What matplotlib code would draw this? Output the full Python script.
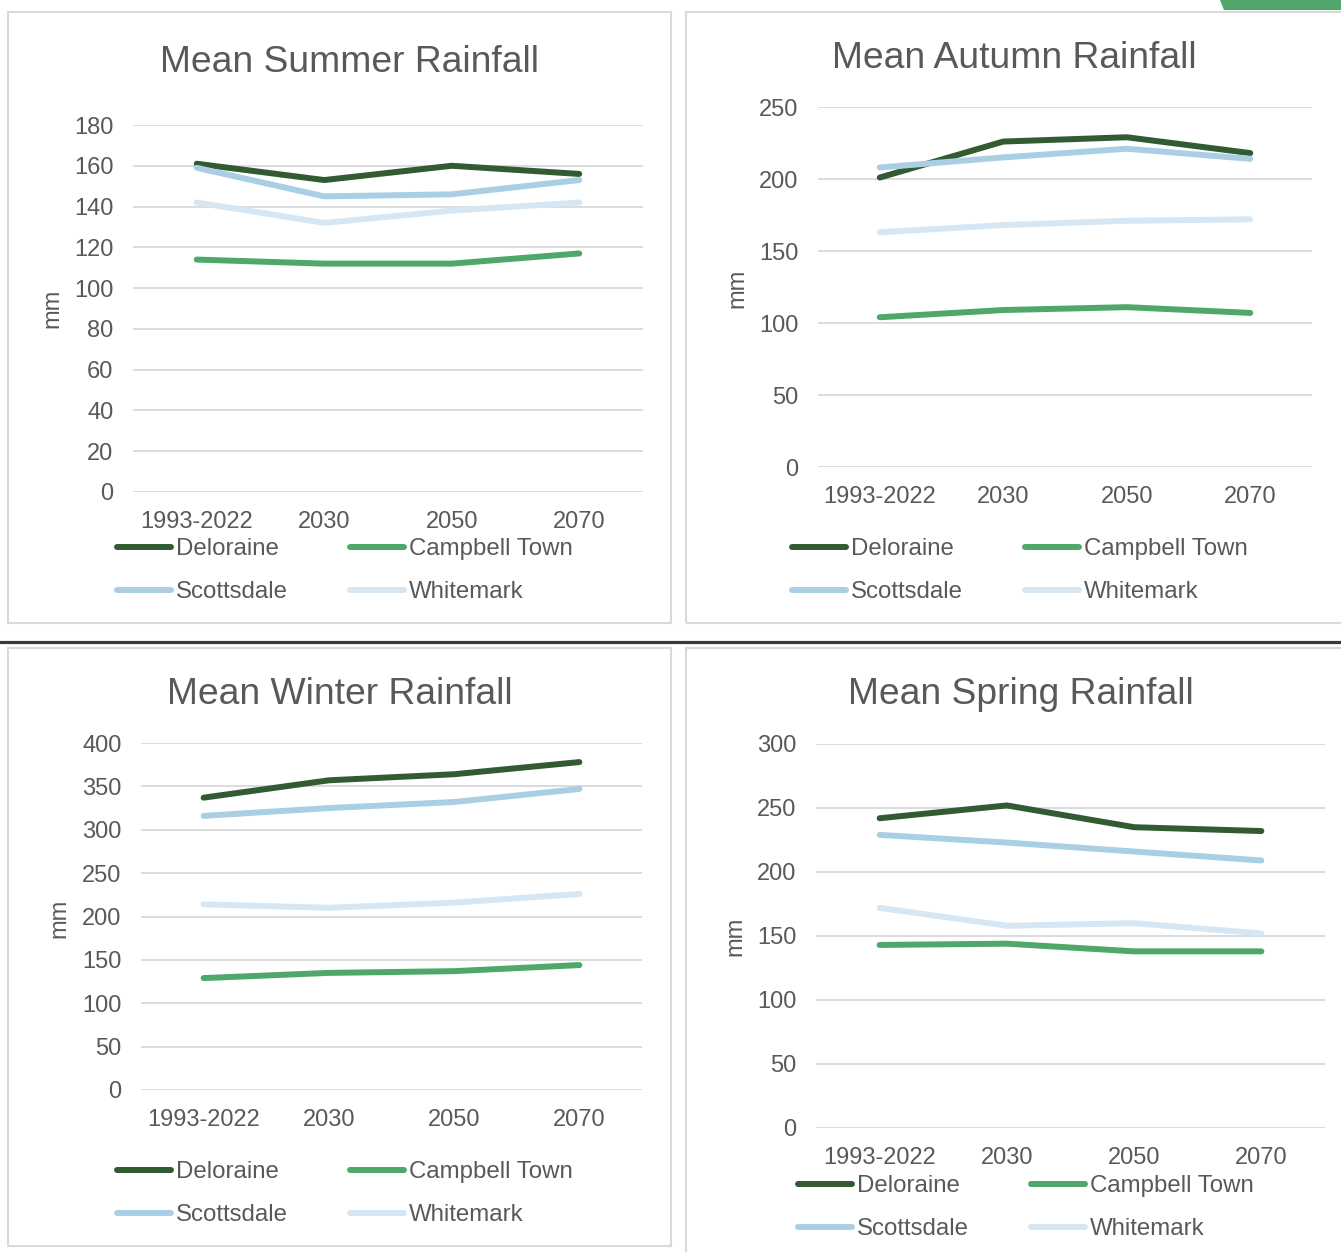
import matplotlib.pyplot as plt
from matplotlib.patches import Rectangle, Polygon
from matplotlib.lines import Line2D

plt.rcParams['font.family'] = ['Liberation Sans', 'DejaVu Sans']

W, H = 1341, 1252

periods = ["1993-2022", "2030", "2050", "2070"]
towns = ["Deloraine", "Campbell Town", "Scottsdale", "Whitemark"]
colors = ["#325B31", "#4FA76B", "#AACFE4", "#D6E7F3"]

summer = {
    "Deloraine": [161, 153, 160, 156],
    "Campbell Town": [114, 112, 112, 117],
    "Scottsdale": [159, 145, 146, 153],
    "Whitemark": [142, 132, 138, 142],
}
autumn = {
    "Deloraine": [201, 226, 229, 218],
    "Campbell Town": [104, 109, 111, 107],
    "Scottsdale": [208, 215, 221, 214],
    "Whitemark": [163, 168, 171, 172],
}
winter = {
    "Deloraine": [337, 357, 364, 378],
    "Campbell Town": [129, 135, 137, 144],
    "Scottsdale": [316, 325, 332, 347],
    "Whitemark": [214, 210, 216, 226],
}
spring = {
    "Deloraine": [242, 252, 235, 232],
    "Campbell Town": [143, 144, 138, 138],
    "Scottsdale": [229, 223, 216, 209],
    "Whitemark": [172, 158, 160, 152],
}

# panel layout in pixels (left, top, right, bottom of plot area), title pos, mm pos, legend pos
panels = [
    dict(title="Mean Summer Rainfall", data=summer, ymax=180, step=20,
         box=(133, 125, 643, 492), tpos=(350, 63), mpos=(52, 308), lpos=(117, 538), border=(8, 12, 671, 623)),
    dict(title="Mean Autumn Rainfall", data=autumn, ymax=250, step=50,
         box=(818, 107, 1312, 467), tpos=(1014, 58), mpos=(737, 288), lpos=(792, 538), border=(686, 12, 1345, 623)),
    dict(title="Mean Winter Rainfall", data=winter, ymax=400, step=50,
         box=(141, 743, 642, 1090), tpos=(340, 694), mpos=(59, 918), lpos=(117, 1161), border=(8, 648, 671, 1246)),
    dict(title="Mean Spring Rainfall", data=spring, ymax=300, step=50,
         box=(816, 744, 1325, 1128), tpos=(1021, 694), mpos=(735, 936), lpos=(798, 1175), border=(686, 648, 1345, 1256)),
]

fig = plt.figure(figsize=(W / 100, H / 100), dpi=100)

def fx(x):
    return x / W

def fy(y):
    return 1 - y / H

# panel borders
for p in panels:
    x0, y0, x1, y1 = p["border"]
    fig.patches.append(Rectangle((fx(x0), fy(y1)), fx(x1 - x0), (y1 - y0) / H,
                                 transform=fig.transFigure, fill=False,
                                 edgecolor="#D9D9D9", lw=1.5))

# divider and corner shape
fig.add_artist(Line2D([0, 1], [fy(642), fy(642)], transform=fig.transFigure,
                      color="#333A45", lw=2.3))
fig.patches.append(Polygon([(fx(1220), fy(0)), (fx(1345), fy(0)), (fx(1345), fy(10)), (fx(1224), fy(10))],
                           closed=True, transform=fig.transFigure, facecolor="#4FA76B", edgecolor="none"))

for p in panels:
    l, t, r, b = p["box"]
    ax = fig.add_axes([fx(l), fy(b), (r - l) / W, (b - t) / H])
    xs = range(len(periods))
    lines = {}
    for town, c in zip(towns, colors):
        lines[town], = ax.plot(xs, p["data"][town], color=c, lw=4.3, solid_capstyle="round",
                               solid_joinstyle="round", label=town, zorder=3)
    ax.set_xlim(-0.5, len(periods) - 0.5)
    ax.set_ylim(0, p["ymax"])
    ax.set_yticks(range(0, p["ymax"] + 1, p["step"]))
    ax.set_xticks(list(xs))
    ax.set_xticklabels(periods)
    ax.grid(axis="y", color="#D9D9D9", lw=1.3)
    ax.set_axisbelow(True)
    for s in ax.spines.values():
        s.set_visible(False)
    ax.tick_params(axis="both", length=0, labelsize=17, colors="#595959")
    ax.tick_params(axis="y", pad=14)
    ax.tick_params(axis="x", pad=14)

    fig.text(fx(p["tpos"][0]), fy(p["tpos"][1]), p["title"], ha="center", va="center",
             fontsize=26.8, color="#595959")
    fig.text(fx(p["mpos"][0]), fy(p["mpos"][1]), "mm", ha="center", va="center",
             rotation=90, fontsize=17, color="#595959")

    # row-major legend order: Deloraine, Campbell Town / Scottsdale, Whitemark
    order = ["Deloraine", "Scottsdale", "Campbell Town", "Whitemark"]
    leg = ax.legend([lines[k] for k in order], order,
                    loc="upper left", bbox_to_anchor=(fx(p["lpos"][0]), fy(p["lpos"][1])),
                    bbox_transform=fig.transFigure, ncol=2, frameon=False, fontsize=17.3,
                    handlelength=2.25, handletextpad=0.2, columnspacing=2.6,
                    labelspacing=0.88, borderpad=0, borderaxespad=0)
    for txt in leg.get_texts():
        txt.set_color("#595959")

fig.savefig("out.png", dpi=100)
